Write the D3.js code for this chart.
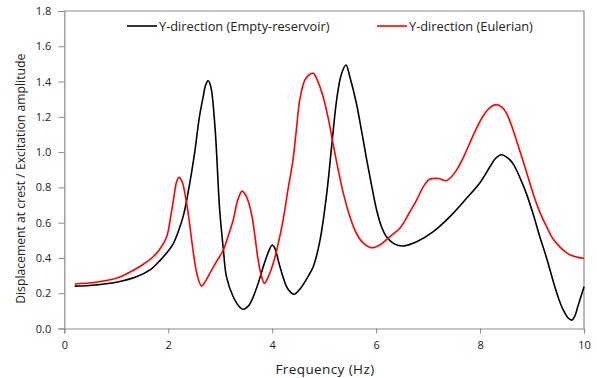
<!DOCTYPE html>
<html>
<head>
<meta charset="utf-8">
<script src="https://cdn.jsdelivr.net/npm/d3@7"></script>
<style>
  html, body { margin: 0; padding: 0; background: #fff; }
  svg text { font-family: "Open Sans", Lato, sans-serif; fill: #222; }
</style>
</head>
<body>
<svg id="chart" width="597" height="378"></svg>
<script>
// Frequency response at the dam crest, Y-direction
const seriesNames = ["Y-direction (Empty-reservoir)", "Y-direction (Eulerian)"];
const seriesColors = ["#000000", "#ff0000"];

const freqEmpty = [0.2,0.6,1.0,1.4,1.65,1.84,2.0,2.1,2.2,2.3,2.4,2.5,2.6,2.67,2.72,2.77,2.82,2.9,2.99,3.06,3.12,3.25,3.38,3.44,3.55,3.7,3.85,3.95,4.0,4.05,4.15,4.3,4.42,4.55,4.7,4.79,4.92,5.05,5.15,5.24,5.33,5.42,5.5,5.62,5.72,5.82,5.92,6.01,6.1,6.2,6.35,6.52,6.78,7.1,7.42,7.74,7.99,8.19,8.3,8.41,8.52,8.63,8.76,8.89,9.02,9.15,9.28,9.4,9.5,9.6,9.7,9.77,9.83,9.88,9.94,10.0];
const valEmpty  = [0.240,0.247,0.262,0.295,0.332,0.385,0.44,0.483,0.555,0.65,0.8,0.98,1.2,1.31,1.38,1.405,1.37,1.14,0.672,0.45,0.294,0.18,0.12,0.109,0.13,0.23,0.37,0.45,0.473,0.455,0.35,0.225,0.194,0.23,0.3,0.35,0.5,0.766,1.05,1.295,1.44,1.494,1.42,1.277,1.12,0.955,0.8,0.672,0.58,0.52,0.48,0.468,0.492,0.549,0.634,0.738,0.823,0.917,0.965,0.985,0.97,0.936,0.86,0.766,0.65,0.52,0.4,0.275,0.18,0.105,0.058,0.048,0.075,0.124,0.18,0.237];

const freqEuler = [0.2,0.6,1.0,1.2,1.5,1.71,1.85,1.97,2.05,2.1,2.16,2.21,2.27,2.32,2.4,2.45,2.55,2.64,2.72,2.8,2.93,3.06,3.16,3.25,3.33,3.42,3.5,3.6,3.67,3.73,3.8,3.85,3.92,4.02,4.1,4.21,4.3,4.4,4.47,4.53,4.63,4.72,4.79,4.88,4.98,5.08,5.17,5.27,5.37,5.5,5.62,5.75,5.91,6.08,6.26,6.46,6.65,6.78,6.9,7.03,7.2,7.35,7.45,7.55,7.68,7.8,7.93,8.06,8.18,8.31,8.42,8.51,8.63,8.76,8.89,9.02,9.15,9.28,9.4,9.53,9.66,9.79,9.9,10.0];
const valEuler  = [0.252,0.262,0.285,0.31,0.36,0.407,0.455,0.52,0.64,0.728,0.83,0.857,0.83,0.766,0.62,0.502,0.313,0.241,0.27,0.313,0.38,0.445,0.53,0.615,0.72,0.779,0.75,0.653,0.52,0.388,0.29,0.256,0.29,0.37,0.46,0.615,0.78,0.955,1.14,1.295,1.409,1.44,1.447,1.4,1.314,1.19,1.05,0.9,0.766,0.63,0.54,0.485,0.458,0.475,0.52,0.57,0.662,0.728,0.8,0.846,0.85,0.838,0.86,0.899,0.97,1.05,1.135,1.205,1.25,1.269,1.255,1.22,1.13,1.012,0.89,0.766,0.66,0.577,0.51,0.464,0.43,0.411,0.402,0.398];

const xTicks = [0, 2, 4, 6, 8, 10];
const yTicks = [0, 0.2, 0.4, 0.6, 0.8, 1.0, 1.2, 1.4, 1.6, 1.8];
const xLabel = "Frequency (Hz)";
const yLabel = "Displacement at crest / Excitation amplitude";

const svg = d3.select("#chart");
const margin = { left: 64.3, right: 13, top: 11, bottom: 49.5 };
const W = 597, H = 378;

const x = d3.scaleLinear().domain([0, 10]).range([margin.left, W - margin.right]);
const y = d3.scaleLinear().domain([0, 1.8]).range([H - margin.bottom, margin.top]);

const axisColor = "#8c8c8c";

// Plot frame (top and right edges)
svg.append("path")
  .attr("d", `M${x(0)},${y(1.8)}H${x(10)}V${y(0)}`)
  .attr("fill", "none").attr("stroke", axisColor).attr("stroke-width", 1.2);

// Axes
const xAxis = svg.append("g")
  .attr("transform", `translate(0,${y(0)})`)
  .call(d3.axisBottom(x).tickValues(xTicks).tickSize(5).tickPadding(8).tickFormat(d3.format("d")));
const yAxis = svg.append("g")
  .attr("transform", `translate(${x(0)},0)`)
  .call(d3.axisLeft(y).tickValues(yTicks).tickSize(6).tickPadding(7).tickFormat(d3.format(".1f")));

[xAxis, yAxis].forEach(g => {
  g.select(".domain").attr("stroke", axisColor).attr("stroke-width", 1.2);
  g.selectAll(".tick line").attr("stroke", axisColor).attr("stroke-width", 1);
  g.selectAll(".tick text").style("font-size", "11px").attr("fill", "#222");
});

// Axis titles
svg.append("text")
  .attr("x", 325).attr("y", 374)
  .attr("text-anchor", "middle").style("font-size", "13.5px")
  .style("letter-spacing", "0.4px")
  .text(xLabel);
svg.append("text")
  .attr("transform", `translate(25,${(y(0) + y(1.8)) / 2 + 9}) rotate(-90)`)
  .attr("text-anchor", "middle").style("font-size", "12.2px")
  .text(yLabel);

// Curves (smooth interpolation through the sampled response points)
const line = d3.line().x(d => x(d[0])).y(d => y(d[1])).curve(d3.curveCatmullRom.alpha(0.5));
const series = [
  d3.zip(freqEmpty, valEmpty),
  d3.zip(freqEuler, valEuler)
];
series.forEach((pts, i) => {
  svg.append("path").datum(pts)
    .attr("d", line)
    .attr("fill", "none")
    .attr("stroke", seriesColors[i])
    .attr("stroke-width", 1.6)
    .attr("stroke-linejoin", "round");
});

// Legend
const legendX = [127, 377];
seriesNames.forEach((name, i) => {
  const g = svg.append("g").attr("transform", `translate(${legendX[i]},26)`);
  g.append("line").attr("x1", 0).attr("x2", 30).attr("y1", 0).attr("y2", 0)
    .attr("stroke", seriesColors[i]).attr("stroke-width", 1.6);
  g.append("text").attr("x", 32).attr("y", 4.6)
    .style("font-size", "12.8px").text(name);
});
</script>
</body>
</html>
